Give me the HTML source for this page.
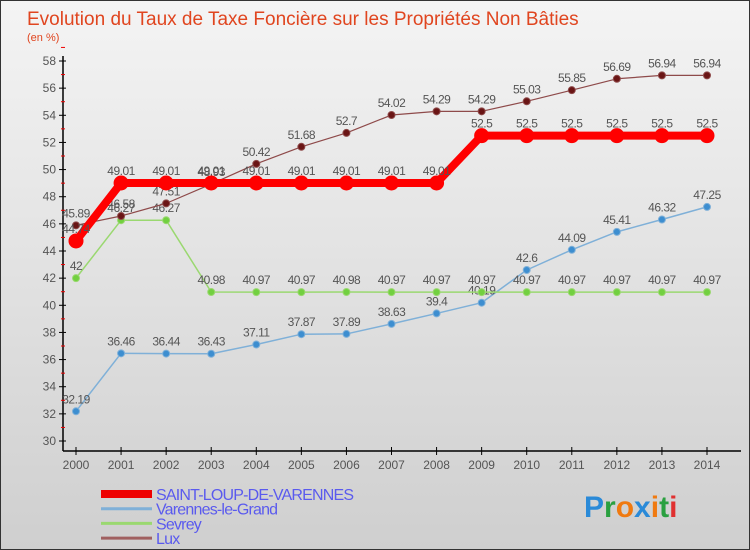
<!DOCTYPE html>
<html><head><meta charset="utf-8"><style>
body{margin:0}
#c{width:750px;height:550px;position:relative;background:linear-gradient(#f4f4f4,#cfcfcf);box-sizing:border-box;border:1px solid #333;overflow:hidden;font-family:"Liberation Sans",sans-serif}
</style></head><body>
<div id="c">
<svg id="s" width="750" height="550" style="position:absolute;left:0;top:0">
<text x="26" y="24" font-size="19" fill="#e0451f">Evolution du Taux de Taxe Foncière sur les Propriétés Non Bâties</text>
<text x="26" y="40" font-size="11" fill="#e0451f">(en %)</text>
</svg>
</div>
<script>
const years=[2000,2001,2002,2003,2004,2005,2006,2007,2008,2009,2010,2011,2012,2013,2014];
const saint=[44.74,49.01,49.01,49.01,49.01,49.01,49.01,49.01,49.01,52.5,52.5,52.5,52.5,52.5,52.5];
const varennes=[32.19,36.46,36.44,36.43,37.11,37.87,37.89,38.63,39.4,40.19,42.6,44.09,45.41,46.32,47.25];
const sevrey=[42,46.27,46.27,40.98,40.97,40.97,40.98,40.97,40.97,40.97,40.97,40.97,40.97,40.97,40.97];
const lux=[45.89,46.58,47.51,48.93,50.42,51.68,52.7,54.02,54.29,54.29,55.03,55.85,56.69,56.94,56.94];
const yTicks=[30,32,34,36,38,40,42,44,46,48,50,52,54,56,58];
const fmt=v=>String(v);
const X=i=>75+i*(706-75)/14;
const Y=v=>440-(v-30)*(380/28);
const s=document.getElementById('s');const NS='http://www.w3.org/2000/svg';
function el(t,a,p){const e=document.createElementNS(NS,t);for(const k in a)e.setAttribute(k,a[k]);(p||s).appendChild(e);return e;}
let e=el('line',{x1:62,y1:55,x2:62,y2:450,stroke:'#000','stroke-width':1.5});

e=el('line',{x1:62,y1:450,x2:740,y2:450,stroke:'#000','stroke-width':1.5});

yTicks.forEach(v=>{
 el('line',{x1:58,y1:Y(v),x2:65,y2:Y(v),stroke:'#000'});
 el('line',{x1:60,y1:Y(v+1),x2:64,y2:Y(v+1),stroke:'#e00'});
 const t=el('text',{x:55,y:Y(v)+4,'font-size':12,fill:'#555','text-anchor':'end'});t.textContent=v;
 
});
years.forEach((y,i)=>{
 el('line',{x1:X(i),y1:446,x2:X(i),y2:454,stroke:'#000'});
 const t=el('text',{x:X(i),y:468,'font-size':12,fill:'#555','text-anchor':'middle'});t.textContent=y;
 
});
function series(d,col,w,r,name,dot){
 const g=el('g',{});
 el('polyline',{points:d.map((v,i)=>X(i)+','+Y(v)).join(' '),fill:'none',stroke:col,'stroke-width':w,'stroke-linejoin':'round'},g);
 d.forEach((v,i)=>{
  const c=el('circle',{cx:X(i),cy:Y(v),r:r,fill:dot,stroke:col,'stroke-width':1},g);
  
  const t=el('text',{x:X(i),y:Y(v)-8,'font-size':12,fill:'#555','text-anchor':'middle','letter-spacing':'-0.5'},g);t.textContent=fmt(v);
  
 });
}
series(varennes,'#7fb0d8',1.5,3.5,'varennes','#3d8ed0');
series(sevrey,'#9ad870',1.5,3.5,'sevrey','#72d040');
series(lux,'#8e4a4a',1.2,3.5,'lux','#6a1515');
series(saint,'#f00',8,7,'saint-loup','#f00');
const leg=[['SAINT-LOUP-DE-VARENNES','#e00',8],['Varennes-le-Grand','#7fb0d8',3],['Sevrey','#9ad870',3],['Lux','#a06060',3]];
leg.forEach((l,i)=>{
 const y=493+i*14.7;
 const g=el('g',{});
 el('line',{x1:100,y1:y,x2:151,y2:y,stroke:l[1],'stroke-width':l[2]},g);
 const t=el('text',{x:155,y:y+6,'font-size':16,fill:'#5a5aee','letter-spacing':'-0.8'},g);t.textContent=l[0];
});
const lg=el('text',{x:583,y:516,'font-size':30,'font-weight':'bold'});
[['P','#2a8ad8'],['r','#2aa040'],['o','#f07a10'],['x','#2a8ad8'],['i','#f07a10'],['t','#2aa040'],['i','#e03030']].forEach(p=>{const ts=el('tspan',{fill:p[1]},lg);ts.textContent=p[0];});
</script>
</body></html>
